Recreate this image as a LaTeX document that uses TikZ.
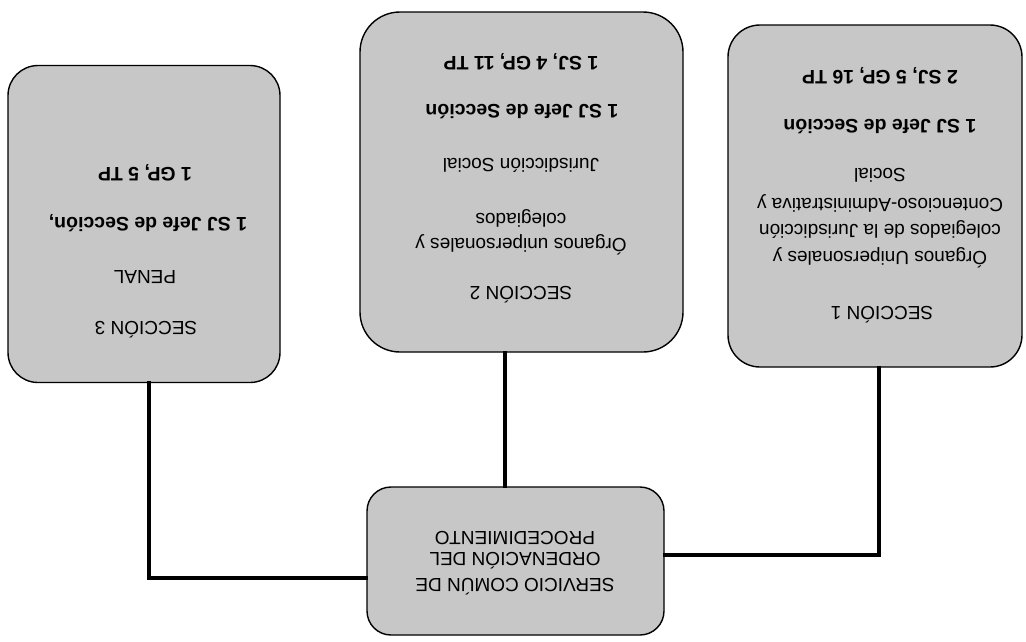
\documentclass[tikz,border=0pt]{standalone}
\usepackage{fontspec}
\setmainfont{Liberation Sans}
\begin{document}
\begin{tikzpicture}[x=1pt,y=-1pt,
  box/.style={draw=black,line width=1.4pt,fill=black!22,inner sep=0pt},
  conn/.style={draw=black,line width=3.6pt,line cap=rect},
  txt/.style={rotate=180,inner sep=0pt,font=\fontsize{19}{22}\selectfont},
  btxt/.style={rotate=180,inner sep=0pt,font=\fontsize{19.5}{22}\selectfont\bfseries}]
\useasboundingbox (0,0) rectangle (1026,641);
% boxes
\node[box,rounded corners=30pt,minimum width=272pt,minimum height=317pt] (s3) at (144,224) {};
\node[box,rounded corners=40pt,minimum width=323pt,minimum height=340pt] (s2) at (521.5,182) {};
\node[box,rounded corners=32pt,minimum width=294pt,minimum height=342pt] (s1) at (875,196) {};
\node[box,rounded corners=24pt,minimum width=297pt,minimum height=148pt] (sc) at (515.5,561) {};
% connectors
\coordinate (c3) at (149,578);
\coordinate (c1) at (879,555);
\draw[conn] (s3.south -| c3) -- (c3) -- (sc.west |- c3);
\draw[conn] (s1.south -| c1) -- (c1) -- (sc.east |- c1);
\draw[conn] (s2.south -| 505,0) -- (sc.north -| 505,0);
% texts section 3
\node[btxt] (t3a) at (145,173) {1 GP, 5 TP};
\node[btxt] (t3b) at (148,223) {1 SJ Jefe de Sección,};
\node[txt] (t3c) at (145,277) {PENAL};
\node[txt] (t3d) at (146,330) {SECCIÓN 3};
% texts section 2
\node[btxt] (t2a) at (521,62) {1 SJ, 4 GP, 11 TP};
\node[btxt] (t2b) at (522,112) {1 SJ Jefe de Sección};
\node[txt] (t2c) at (521,165) {Jurisdicción Social};
\node[txt] (t2d) at (521,218) {colegiados};
\node[txt] (t2e) at (521,245) {Órganos unipersonales y};
\node[txt] (t2f) at (521,295) {SECCIÓN 2};
% texts section 1
\node[btxt] (t1a) at (880,76) {2 SJ, 5 GP, 16 TP};
\node[btxt] (t1b) at (880,127) {1 SJ Jefe de Sección};
\node[txt] (t1c) at (880,175) {Social};
\node[txt] (t1d) at (880,203) {Contencioso-Administrativa y};
\node[txt] (t1e) at (880,230) {colegiados de la Jurisdicción};
\node[txt] (t1f) at (880,258) {Órganos Unipersonales y};
\node[txt] (t1g) at (882,315) {SECCIÓN 1};
% texts service
\node[txt] (tsa) at (515,538) {PROCEDIMIENTO};
\node[txt] (tsb) at (515,561) {ORDENACIÓN DEL};
\node[txt] (tsc) at (515,587) {SERVICIO COMÚN DE};
\end{tikzpicture}
\end{document}
